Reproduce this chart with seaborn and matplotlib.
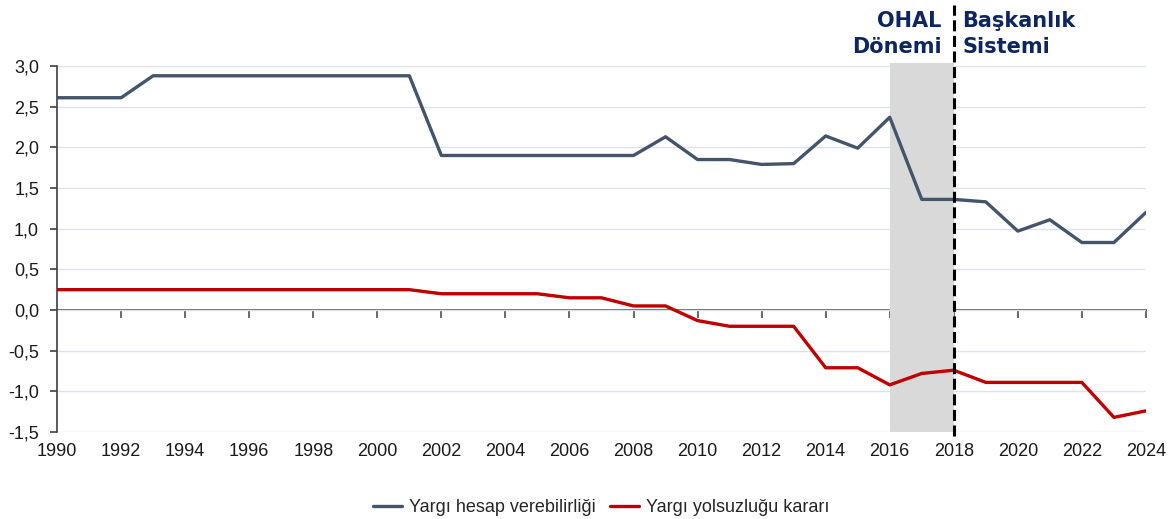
import pandas as pd
import numpy as np
import matplotlib.pyplot as plt
import matplotlib.ticker as mticker
import seaborn as sns


# Veriler
yillar = list(range(1990, 2025))
hesap_verebilirlik = [2.61, 2.61, 2.61, 2.88, 2.88, 2.88, 2.88, 2.88, 2.88, 2.88,
                      2.88, 2.88, 1.90, 1.90, 1.90, 1.90, 1.90, 1.90, 1.90, 2.13,
                      1.85, 1.85, 1.79, 1.80, 2.14, 1.99, 2.37, 1.36, 1.36, 1.33,
                      0.97, 1.11, 0.83, 0.83, 1.20]
yolsuzluk_karari = [0.25, 0.25, 0.25, 0.25, 0.25, 0.25, 0.25, 0.25, 0.25, 0.25,
                    0.25, 0.25, 0.20, 0.20, 0.20, 0.20, 0.15, 0.15, 0.05, 0.05,
                    -0.13, -0.20, -0.20, -0.20, -0.71, -0.71, -0.92, -0.78, -0.74, -0.89,
                    -0.89, -0.89, -0.89, -1.32, -1.24]
seri_adlari = ["Yargı hesap verebilirliği", "Yargı yolsuzluğu kararı"]
renkler = ["#44546A", "#C00000"]

df = pd.DataFrame({
    "Yıl": yillar * 2,
    "Değer": hesap_verebilirlik + yolsuzluk_karari,
    "Seri": [seri_adlari[0]] * len(yillar) + [seri_adlari[1]] * len(yillar),
})

sns.set_style("white")
plt.rcParams["font.family"] = ["Liberation Sans", "DejaVu Sans"]

fig = plt.figure(figsize=(11.74, 5.19), dpi=100)
ax = fig.add_axes([0.0486, 0.1676, 0.9275, 0.7052])

# OHAL dönemi gölgesi
ax.axvspan(2016, 2018, ymin=0, ymax=1.008, color="#D9D9D9", lw=0, zorder=1, clip_on=False)

sns.lineplot(data=df, x="Yıl", y="Değer", hue="Seri", palette=renkler,
             linewidth=2.4, ax=ax, zorder=3, legend=False)

# Başkanlık sistemi çizgisi
ax.axvline(2018, ymin=-0.012, ymax=1.168, color="black", lw=2.2,
           dashes=(3.6, 1.5), clip_on=False, zorder=4)

ax.set_xlim(1990, 2024)
ax.set_ylim(-1.5, 3.0)
ax.set_xticks(range(1990, 2025, 2))
ax.set_yticks(np.arange(-1.5, 3.01, 0.5))
ax.yaxis.set_major_formatter(mticker.FuncFormatter(lambda v, p: f"{v:.1f}".replace(".", ",")))
ax.grid(axis="y", color="#DCE3EE", lw=1)
ax.set_axisbelow(True)
ax.set_xlabel("")
ax.set_ylabel("")

for s in ["top", "right", "bottom"]:
    ax.spines[s].set_visible(False)
ax.spines["left"].set_color("#404040")
ax.spines["left"].set_linewidth(1.2)
ax.tick_params(axis="x", length=0, labelsize=13, pad=8, labelcolor="#1a1a1a")
ax.tick_params(axis="y", length=5, width=1.2, direction="out", color="#404040",
               labelsize=13, pad=8, labelcolor="#1a1a1a", left=True)

# Sıfır çizgisi üzerindeki eksen
sec = ax.secondary_xaxis(1.5 / 4.5)
sec.set_xticks(range(1992, 2025, 2))
sec.tick_params(axis="x", length=6, width=1.2, direction="out", color="#505050", labelbottom=False)
sec.set_xticklabels([])
sec.spines["bottom"].set_color("#505050")
sec.spines["bottom"].set_linewidth(1.3)
sec.spines["top"].set_visible(False)

# Dönem etiketleri
ax.annotate("OHAL\nDönemi", xy=(2018, 1.024), xycoords=("data", "axes fraction"),
            xytext=(-9, 0), textcoords="offset points", ha="right", va="bottom",
            fontsize=15, fontweight="bold", color="#0D2661", family="DejaVu Sans",
            linespacing=1.42)
ax.annotate("Başkanlık\nSistemi", xy=(2018, 1.024), xycoords=("data", "axes fraction"),
            xytext=(6, 0), textcoords="offset points", ha="left", va="bottom",
            fontsize=15, fontweight="bold", color="#0D2661", family="DejaVu Sans",
            linespacing=1.42)

# Lejant
tutamaclar = [plt.Line2D([], [], color=c, lw=2.4) for c in renkler]
fig.legend(tutamaclar, seri_adlari, loc="lower center", bbox_to_anchor=(0.512, -0.026),
           ncol=2, frameon=False, fontsize=13, handlelength=1.6, columnspacing=0.8,
           handletextpad=0.4)

plt.savefig("out.png", dpi=100)
